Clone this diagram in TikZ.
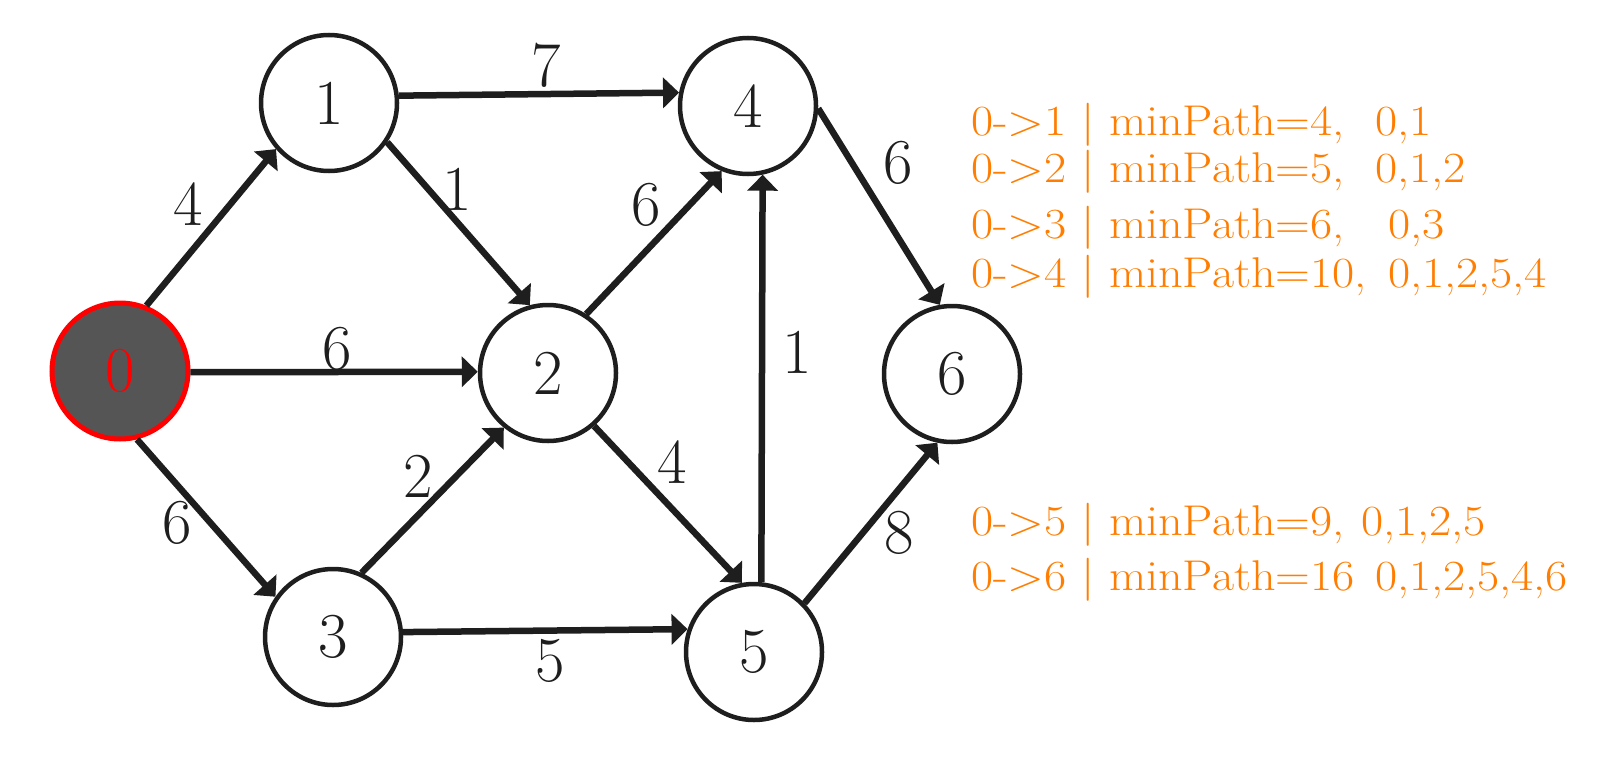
\documentclass[tikz,border=0pt]{standalone}
\usepackage{fontspec}
\usepackage{graphicx}
\usetikzlibrary{arrows.meta}
\definecolor{ink}{RGB}{30,30,30}
\definecolor{srcfill}{RGB}{85,85,85}
\definecolor{srcred}{RGB}{255,0,0}
\definecolor{notecolor}{RGB}{255,125,0}
% slightly widened text for the result lines
\newcommand\widetext[1]{\scalebox{1.12}[1]{#1}}

\begin{document}
\begin{tikzpicture}[x=1pt,y=-1pt,
  vertex/.style={circle, draw=ink, line width=4.5pt, fill=white, minimum size=136pt,
    inner sep=0pt, font=\fontsize{64}{64}\selectfont, text=ink},
  source/.style={vertex, draw=srcred, fill=srcfill, text=srcred, line width=5pt},
  edge/.style={draw=ink, line width=6.5pt, -{Triangle[length=16pt,width=30pt]}},
  weight/.style={inner sep=0pt, font=\fontsize{64}{64}\selectfont, text=ink},
  result/.style={anchor=base west, inner sep=0pt, text=notecolor,
    font=\fontsize{43}{43}\selectfont}]
\useasboundingbox (0,0) rectangle (1624,768);

% vertices
\node[source] (n0) at (120,371) {0};
\node[vertex] (n1) at (329,103) {1};
\node[vertex] (n2) at (548,373) {2};
\node[vertex] (n3) at (333,637) {3};
\node[vertex] (n4) at (748,106) {4};
\node[vertex] (n5) at (754,652) {5};
\node[vertex] (n6) at (952,374) {6};

% directed edges
\draw[edge] (n0.68)  -- (n1.221);
\draw[edge] (n1.6)   -- (n4.169);
\draw[edge] (n1.-34) -- (n2.105);
\draw[edge] (n0.-1)  -- (n2.179);
\draw[edge] (n0.-76) -- (n3.145);
\draw[edge] (n3.66)  -- (n2.231);
\draw[edge] (n3.4)   -- (n5.161);
\draw[edge] (n2.57)  -- (n4.248);
\draw[edge] (n2.-49) -- (n5.100);
\draw[edge] (n5.84)  -- (n4.-78);
\draw[edge] (n4.-2)  -- (n6.100);
\draw[edge] (n5.44)  -- (n6.258);

% edge weights
\node[weight] (w01) at (188,204) {4};
\node[weight] (w14) at (546,65)  {7};
\node[weight] (w12) at (457,189) {1};
\node[weight] (w02) at (337,349) {6};
\node[weight] (w03) at (177,523) {6};
\node[weight] (w32) at (418,476) {2};
\node[weight] (w35) at (550,661) {5};
\node[weight] (w24) at (646,205) {6};
\node[weight] (w46) at (898,163) {6};
\node[weight] (w54) at (797,352) {1};
\node[weight] (w25) at (672,462) {4};
\node[weight] (w56) at (899,533) {8};

% shortest paths from vertex 0
\node[result] (d1) at (971,135) {\widetext{0->1 | minPath=4,}};
\node[result] (p1) at (1375,135) {\widetext{0,1}};
\node[result] (d2) at (971,182) {\widetext{0->2 | minPath=5,}};
\node[result] (p2) at (1375,182) {\widetext{0,1,2}};
\node[result] (d3) at (971,238) {\widetext{0->3 | minPath=6,}};
\node[result] (p3) at (1388,238) {\widetext{0,3}};
\node[result] (d4) at (971,287) {\widetext{0->4 | minPath=10,}};
\node[result] (p4) at (1388,287) {\widetext{0,1,2,5,4}};
\node[result] (d5) at (971,535) {\widetext{0->5 | minPath=9,}};
\node[result] (p5) at (1361,535) {\widetext{0,1,2,5}};
\node[result] (d6) at (971,590) {\widetext{0->6 | minPath=16}};
\node[result] (p6) at (1375,590) {\widetext{0,1,2,5,4,6}};
\end{tikzpicture}
\end{document}
